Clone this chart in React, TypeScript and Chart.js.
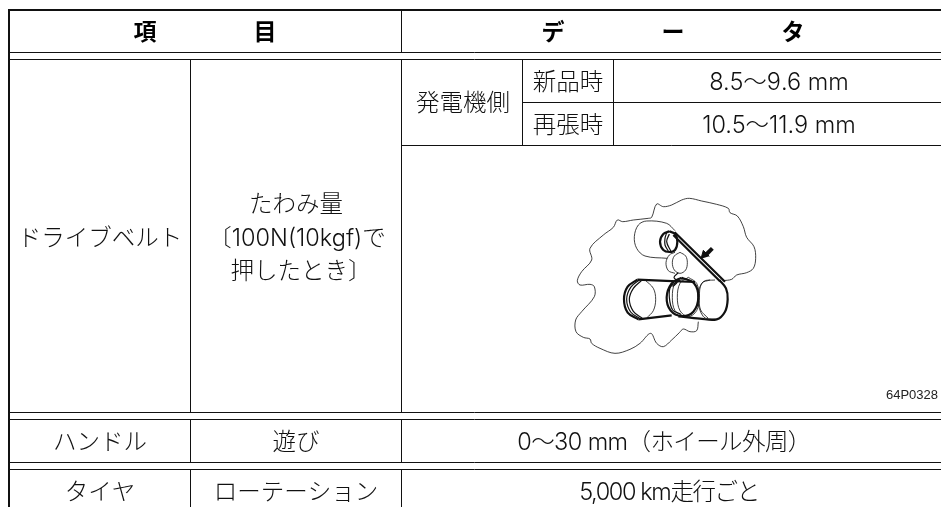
import React, { useEffect, useRef } from "react";
import { Chart, registerables } from "chart.js";

Chart.register(...registerables);

const WIDTH = 941;
const HEIGHT = 507;
const INK = "#111111";

// Table rules: [x1, y1, x2, y2, width]
const tableRules: number[][] = [
  [9, 9, 9, 507, 2],
  [8, 10, 941, 10, 2],
  [8, 52.5, 941, 52.5, 1],
  [8, 59.5, 941, 59.5, 1],
  [8, 412.5, 941, 412.5, 1],
  [8, 419.5, 941, 419.5, 1],
  [8, 462.5, 941, 462.5, 1],
  [8, 469.5, 941, 469.5, 1],
  [190.5, 59.5, 190.5, 412.5, 1],
  [190.5, 419.5, 190.5, 462.5, 1],
  [190.5, 469.5, 190.5, 507, 1],
  [401.5, 10, 401.5, 52.5, 1],
  [401.5, 59.5, 401.5, 412.5, 1],
  [401.5, 419.5, 401.5, 462.5, 1],
  [401.5, 469.5, 401.5, 507, 1],
  [522.5, 59.5, 522.5, 145.5, 1],
  [613.5, 59.5, 613.5, 145.5, 1],
  [522.5, 102.5, 941, 102.5, 1],
  [401.5, 145.5, 941, 145.5, 1],
];

// Cell texts and where they sit
const headerTexts = ["項", "目", "デ", "ー", "タ"];
const headerX = [145, 265, 553, 673, 793];
const headerY = [31, 31, 31, 31, 31];

const cellTexts = [
  "ドライブベルト", "たわみ量", "〔100N(10kgf)で", "押したとき〕",
  "発電機側", "新品時", "再張時", "8.5〜9.6 mm", "10.5〜11.9 mm",
  "ハンドル", "遊び", "0〜30 mm（ホイール外周）",
  "タイヤ", "ローテーション", "5,000 km走行ごと",
];
const cellX = [100, 296, 297, 301, 463, 568, 568, 779, 779, 100, 296, 664, 100, 296, 669];
const cellY = [239, 205, 239, 272, 104, 83, 126, 83, 126, 443, 443, 443, 493, 493, 493];
const cellTracking = [0, 0, 0, 0, 0, 0, 0, 0, 0, 0, 0, -0.6, 0, 0, -1.4];

const figureCode = "64P0328";

// Belt diagram, thin and thick strokes, in figure coordinates
const engineOutlineUpper = [
  [968, 422], [995, 418], [1010, 405], [1040, 398], [1060, 385], [1067, 355], [1062, 320], [1040, 292],
  [1030, 260], [1012, 228], [990, 218], [985, 205], [950, 193], [905, 183], [868, 175], [845, 180],
  [815, 195], [790, 200], [770, 192], [755, 232], [745, 235], [700, 240], [668, 245], [652, 240],
  [640, 262], [610, 285], [570, 325], [575, 360], [545, 395], [532, 422], [540, 435], [570, 433],
  [583, 440], [583, 470], [545, 515], [527, 540], [528, 575], [550, 592], [570, 597], [575, 610],
  [600, 625], [645, 640], [690, 628], [720, 610], [752, 580], [770, 610], [790, 620], [815, 600],
  [838, 578], [850, 567], [870, 575], [890, 572], [895, 545],
];
const alternatorBody = [
  [825, 272], [800, 250], [740, 243], [715, 255], [703, 290], [710, 325], [735, 348], [802, 355],
];
const idlerBack = [
  [825, 337], [808, 345], [798, 368], [805, 392], [825, 400],
];
const idlerFront = [
  [840, 337], [857, 348], [862, 368], [857, 390], [840, 400], [823, 390], [817, 368], [823, 348], [840, 337],
];
const idlerTail = [[835, 398], [822, 412], [832, 425], [818, 440]];
const crankInner1 = [
  [865, 412], [890, 430], [897, 472], [890, 512], [865, 530], [840, 512], [832, 472], [840, 430], [865, 412],
];
const crankInner2 = [
  [855, 415], [825, 430], [817, 472], [825, 512], [850, 528],
];
const rightPulleyFace = [
  [945, 420], [910, 425], [893, 472], [910, 530], [945, 538],
];
const rightPulleyFace2 = [
  [930, 420], [905, 430], [898, 472], [902, 510], [925, 535],
];
const leftPulleyFace = [[735, 420], [760, 445], [767, 478], [760, 512], [740, 534]];

const beltUpperPulley1 = [
  [808, 274], [825, 282], [832, 305], [825, 330], [808, 336], [790, 330], [780, 305], [790, 282], [808, 274],
];
const beltUpperPulley2 = [
  [800, 278], [795, 295], [795, 315], [805, 333],
];
const beltUpperPulley3 = [[808, 282], [800, 305], [812, 333]];
const beltSpanA = [[824, 277], [975, 425]];
const beltSpanB = [[820, 285], [960, 424]];
const beltRight = [
  [958, 420], [978, 445], [983, 478], [975, 515], [950, 538], [900, 536], [835, 529],
];
const beltCrankOuter = [
  [845, 413], [815, 430], [800, 472], [812, 512], [845, 528], [880, 515], [895, 472], [882, 430], [845, 413],
];
const beltCrankMid = [
  [840, 420], [812, 440], [808, 472], [818, 510], [842, 522],
];
const beltLeftTop = [[712, 419], [885, 426]];
const beltLeftBottom = [[715, 538], [815, 526]];
const beltLeftArc1 = [
  [712, 419], [683, 440], [672, 478], [683, 518], [715, 538],
];
const beltLeftArc2 = [
  [718, 420], [692, 442], [680, 478], [692, 516], [722, 537],
];
const beltLeftArc3 = [
  [725, 421], [700, 445], [688, 478], [700, 514], [728, 536],
];
const arrowShaft = [[937, 325], [920, 342]];
const arrowHead = [[903, 356], [910, 331], [928, 349]];

const thinStrokes = [
  engineOutlineUpper, alternatorBody, idlerBack, idlerFront, crankInner1, crankInner2,
  rightPulleyFace, rightPulleyFace2, leftPulleyFace,
];
const mediumStrokes = [idlerTail, beltUpperPulley3, beltCrankMid, beltLeftArc2, beltLeftArc3, beltUpperPulley2];
const thickStrokes = [
  beltUpperPulley1, beltSpanA, beltSpanB, beltRight, beltCrankOuter, beltLeftTop, beltLeftBottom, beltLeftArc1,
];

const figureToPage = (p: number[]) => ({ x: 400 + p[0] / 3, y: 140 + p[1] / 3 });

const cjk = '"Noto Sans CJK JP", sans-serif';
const body = '"Inter", "Noto Sans CJK JP", sans-serif';

const textPlugin = {
  id: "tableText",
  afterDatasetsDraw(chart: any) {
    const { ctx, scales } = chart;
    ctx.save();
    ctx.textAlign = "center";
    ctx.textBaseline = "middle";
    ctx.fillStyle = "#000";
    ctx.font = `bold 23px ${cjk}`;
    headerTexts.forEach((t, i) => {
      ctx.fillText(t, scales.x.getPixelForValue(headerX[i]), scales.y.getPixelForValue(headerY[i]));
    });
    ctx.fillStyle = "#111";
    ctx.font = `300 23.5px ${body}`;
    cellTexts.forEach((t, i) => {
      ctx.letterSpacing = `${cellTracking[i]}px`;
      ctx.fillText(t, scales.x.getPixelForValue(cellX[i]), scales.y.getPixelForValue(cellY[i]));
    });
    ctx.letterSpacing = "0px";
    ctx.textAlign = "right";
    ctx.font = '13px "Liberation Sans", sans-serif';
    ctx.fillStyle = "#222";
    ctx.fillText(figureCode, scales.x.getPixelForValue(938), scales.y.getPixelForValue(395));
    ctx.restore();
  },
};

const ruleDataset = (r: number[]) => ({
  data: [{ x: r[0], y: r[1] }, { x: r[2], y: r[3] }],
  borderColor: INK,
  borderWidth: r[4],
  pointRadius: 0,
  showLine: true,
  tension: 0,
});
const strokeDataset = (pts: number[][], w: number, tension: number) => ({
  data: pts.map(figureToPage),
  borderColor: "#111",
  borderWidth: w,
  pointRadius: 0,
  showLine: true,
  tension,
});

export default function App() {
  const ref = useRef<HTMLCanvasElement>(null);
  useEffect(() => {
    document.body.style.margin = "0";
    document.body.style.background = "#fff";
    const chart = new Chart(ref.current!, {
      type: "scatter",
      data: {
        datasets: [
          ...tableRules.map(ruleDataset),
          ...thinStrokes.map((s) => strokeDataset(s, 0.8, 0.35)),
          ...mediumStrokes.map((s) => strokeDataset(s, 1.2, 0.35)),
          ...thickStrokes.map((s) => strokeDataset(s, 2.2, 0.35)),
          { ...strokeDataset(arrowShaft, 4, 0) },
          {
            ...strokeDataset(arrowHead, 1, 0),
            fill: "shape",
            backgroundColor: "#111",
          },
        ] as any,
      },
      options: {
        animation: false,
        responsive: false,
        layout: { padding: 0 },
        clip: false as any,
        plugins: { legend: { display: false }, tooltip: { enabled: false }, title: { display: false } },
        scales: {
          x: { type: "linear", min: 0, max: WIDTH, display: false },
          y: { type: "linear", min: 0, max: HEIGHT, reverse: true, display: false },
        },
      },
      plugins: [textPlugin],
    });
    return () => chart.destroy();
  }, []);
  return <canvas ref={ref} width={WIDTH} height={HEIGHT} style={{ display: "block" }} />;
}
